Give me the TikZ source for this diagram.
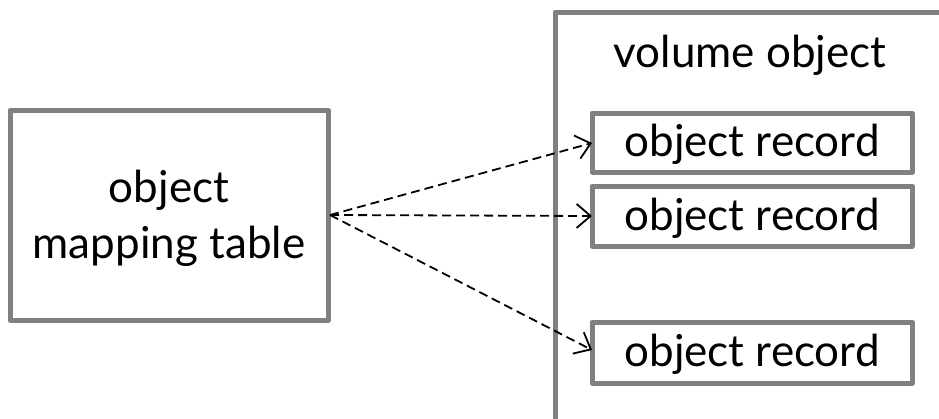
\documentclass[tikz,border=0pt]{standalone}
\usepackage{fontspec}
\setmainfont{Lato}
\usetikzlibrary{arrows.meta}
\begin{document}
\begin{tikzpicture}[x=1pt,y=-1pt,
  gbox/.style={draw=black!50,line width=5pt,line join=round},
  lbl/.style={font=\fontsize{44}{56}\selectfont,align=center},
  conn/.style={draw=black,line width=1.8pt,dash pattern=on 9pt off 5pt,-{Straight Barb[length=14pt,width=24pt,line width=1.8pt]}}]
\useasboundingbox (0,0) rectangle (939,418);
\clip (0,0) rectangle (939,418);
\fill[white] (0,0) rectangle (939,418);
% left box
\draw[gbox] (10,110) rectangle (328,320);
\node[lbl] (omt) at (169,218) {object\\mapping table};
\coordinate (src) at (330,215);
% volume object
\draw[gbox] (555,12) rectangle (950,425);
\node[lbl] (vol) at (750,55) {volume object};
% records
\draw[gbox] (592,113) rectangle (912,172);
\node[lbl] (r1) at (752,144) {object record};
\draw[gbox] (592,186) rectangle (912,246);
\node[lbl] (r2) at (752,218) {object record};
\draw[gbox] (592,322) rectangle (912,383);
\node[lbl] (r3) at (752,354) {object record};
\coordinate (e1) at (592,143);
\coordinate (e2) at (592,216);
\coordinate (e3) at (592,350);
\draw[conn] (src) -- (e1);
\draw[conn] (src) -- (e2);
\draw[conn] (src) -- (e3);
\end{tikzpicture}
\end{document}
